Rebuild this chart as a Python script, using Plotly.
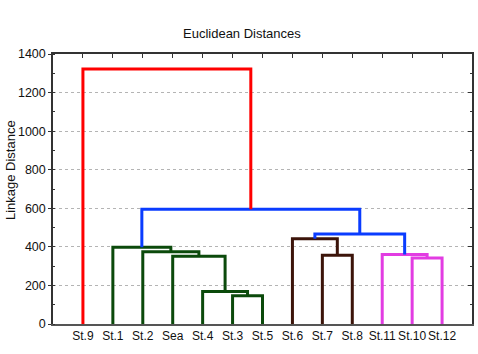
import plotly.graph_objects as go

# ---- data ----
leaf_labels = ["St.9", "St.1", "St.2", "Sea", "St.4", "St.3", "St.5",
               "St.6", "St.7", "St.8", "St.11", "St.10", "St.12"]
# merges: (left member, right member, linkage distance, cluster colour)
merge_left = ["St.3", "St.4", "Sea", "St.2", "St.1", "St.7", "St.6",
              "St.10", "St.11", "G", "E", "St.9"]
merge_right = ["St.5", "A", "B", "C", "D", "St.8", "F",
               "St.12", "H", "I", "J", "K"]
merge_name = ["A", "B", "C", "D", "E", "F", "G", "H", "I", "J", "K", "L"]
merge_height = [147, 168, 351, 375, 398, 356, 442, 342, 361, 467, 595, 1322]
merge_color = ["green", "green", "green", "green", "green", "brown", "brown",
               "magenta", "magenta", "blue", "blue", "red"]
y_ticks = [0, 200, 400, 600, 800, 1000, 1200, 1400]

palette = {"green": "#0B4A0B", "brown": "#3C140A", "magenta": "#E23CE2",
           "blue": "#0A3CFF", "red": "#FF0000"}

# ---- build dendrogram coordinates ----
pos = {lab: i + 1 for i, lab in enumerate(leaf_labels)}
hgt = {lab: 0 for lab in leaf_labels}
segs = {}
for l, r, n, h, c in zip(merge_left, merge_right, merge_name, merge_height, merge_color):
    xs = [pos[l], pos[l], pos[r], pos[r], None]
    ys = [hgt[l], h, h, hgt[r], None]
    segs.setdefault(c, ([], []))
    segs[c][0].extend(xs)
    segs[c][1].extend(ys)
    pos[n] = (pos[l] + pos[r]) / 2
    hgt[n] = h

fig = go.Figure()
for c, (xs, ys) in segs.items():
    fig.add_trace(go.Scatter(x=xs, y=ys, mode="lines",
                             line=dict(color=palette[c], width=3),
                             hoverinfo="skip", showlegend=False))

n = len(leaf_labels)
fam = "Liberation Sans, Arial, sans-serif"
font = dict(family=fam, size=12, color="#111111")
xr = [0, n + 1]
yr = [0, 1400]

fig.update_layout(
    width=478, height=354,
    margin=dict(l=53, r=6, t=54, b=30),
    paper_bgcolor="white", plot_bgcolor="white",
    font=font,
    xaxis=dict(range=xr, tickmode="array", tickvals=list(range(1, n + 1)),
               ticktext=leaf_labels, showgrid=False, zeroline=False,
               showline=True, linecolor="#555555", linewidth=1.5,
               ticks="", tickfont=font, ticklabelstandoff=0,
               tickangle=0, automargin=False),
    xaxis2=dict(range=xr, overlaying="x", side="top", tickmode="array",
                tickvals=list(range(1, n + 1)), showticklabels=False,
                ticks="inside", ticklen=4, tickcolor="#333333",
                showline=True, linecolor="#333333", linewidth=1.5,
                showgrid=False, zeroline=False),
    yaxis=dict(range=yr, tickmode="array", tickvals=y_ticks,
               showgrid=True, gridcolor="#b4b4b4", griddash="dot", gridwidth=1,
               zeroline=False, showline=True, linecolor="#333333", linewidth=1.5,
               ticks="outside", ticklen=3, tickcolor="#333333",
               tickfont=dict(family=fam, size=12.5, color="#111111"),
               ticklabelstandoff=0, automargin=False,
               minor=dict(dtick=100, ticks="inside", ticklen=2, tickcolor="#333333",
                          showgrid=False)),
    yaxis2=dict(range=yr, overlaying="y", side="right", tickmode="array",
                tickvals=y_ticks, showticklabels=False, ticks="inside",
                ticklen=4, tickcolor="#333333", showline=True,
                linecolor="#333333", linewidth=1.5, showgrid=False,
                zeroline=False,
                minor=dict(dtick=100, ticks="inside", ticklen=2, tickcolor="#333333")),
    annotations=[
        dict(text="Euclidean Distances", xref="paper", yref="paper",
             x=0.45, y=1, yshift=11, xanchor="center", yanchor="bottom",
             showarrow=False, font=dict(family=fam, size=13, color="#111111")),
        dict(text="Linkage Distance", xref="paper", yref="paper",
             x=0, xshift=-43, y=0.57, xanchor="center", yanchor="middle",
             textangle=-90, showarrow=False,
             font=dict(family=fam, size=13, color="#111111")),
    ],
)
# invisible trace to activate overlay axes
fig.add_trace(go.Scatter(x=[None], y=[None], xaxis="x2", yaxis="y2",
                         showlegend=False, hoverinfo="skip"))

fig.write_html("out.html")
